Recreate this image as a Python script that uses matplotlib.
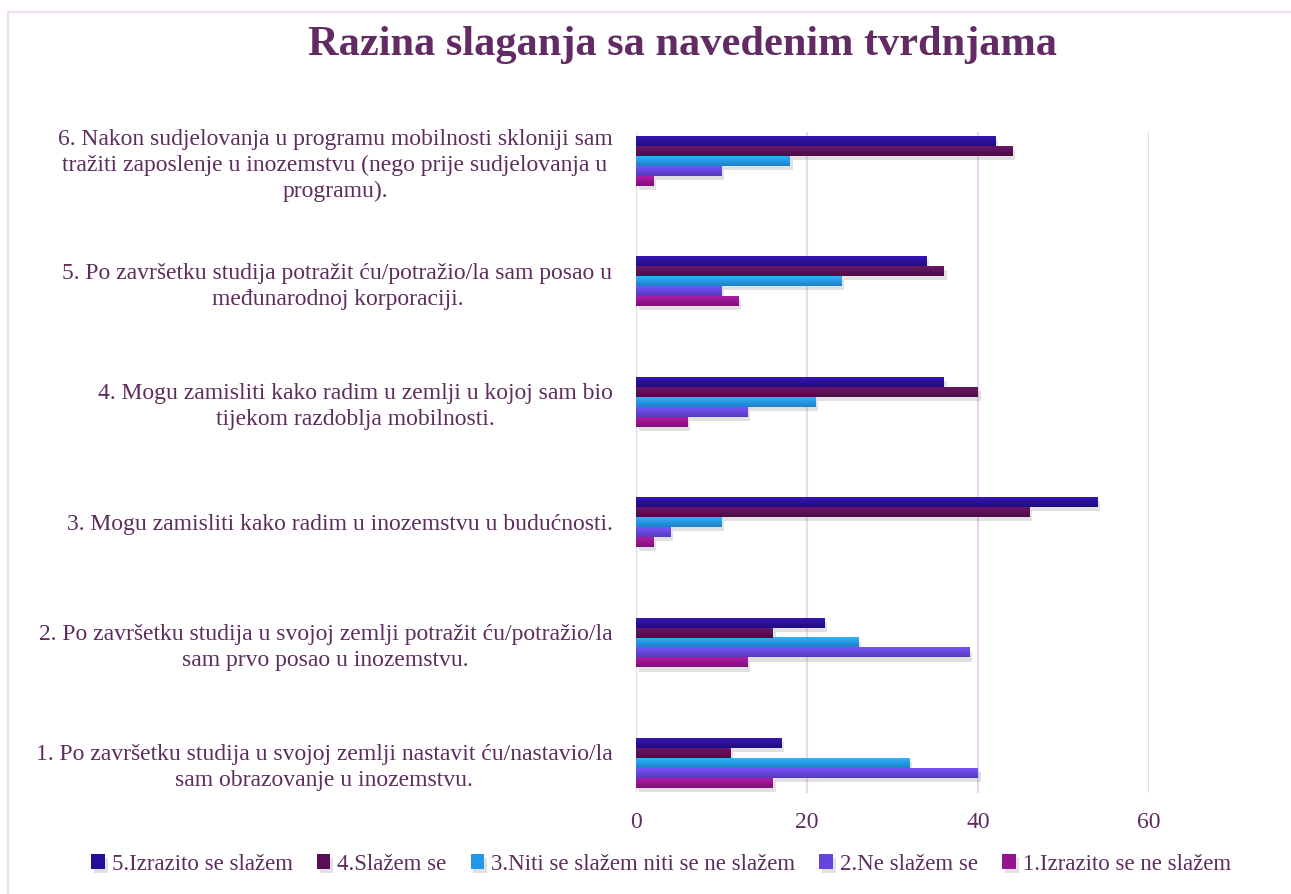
import numpy as np
import matplotlib
matplotlib.use('Agg')
import matplotlib.pyplot as plt
import matplotlib.patheffects as pe
from matplotlib.colors import to_rgb, LinearSegmentedColormap
from matplotlib.patches import Rectangle

plt.rcParams['font.family'] = ['Liberation Serif', 'DejaVu Serif']

# pitanja (odozdo prema gore)
pitanja = [
    '1. Po završetku studija u svojoj zemlji nastavit ću/nastavio/la\nsam obrazovanje u inozemstvu.',
    '2. Po završetku studija u svojoj zemlji potražit ću/potražio/la\nsam prvo posao u inozemstvu.',
    '3. Mogu zamisliti kako radim u inozemstvu u budućnosti.',
    '4. Mogu zamisliti kako radim u zemlji u kojoj sam bio\ntijekom razdoblja mobilnosti.',
    '5. Po završetku studija potražit ću/potražio/la sam posao u\nmeđunarodnoj korporaciji.',
    '6. Nakon sudjelovanja u programu mobilnosti skloniji sam\ntražiti zaposlenje u inozemstvu (nego prije sudjelovanja u\nprogramu).',
]

odgovori = ['1.Izrazito se ne slažem', '2.Ne slažem se', '3.Niti se slažem niti se ne slažem',
            '4.Slažem se', '5.Izrazito se slažem']

izrazito_ne = [16, 13, 2, 6, 12, 2]
ne_slazem = [40, 39, 4, 13, 10, 10]
niti_niti = [32, 26, 10, 21, 24, 18]
slazem = [11, 16, 46, 40, 36, 44]
izrazito_da = [17, 22, 54, 36, 34, 42]

serije = [izrazito_ne, ne_slazem, niti_niti, slazem, izrazito_da]
boje = ['#95138E', '#6444DA', '#2398EA', '#580E54', '#280D98']

tekst = '#5E2D5E'
mreza = '#EBD8EE'

fig = plt.figure(figsize=(12.91, 8.94), dpi=100)
ax = fig.add_axes([636 / 1291, 1 - 793 / 894, (1149 - 636) / 1291, (793 - 132) / 894])

y = np.arange(len(pitanja))
h = 0.083


def gradijent(bar, boja):
    # svjetliji gornji rub, tamniji donji
    r, g, b = to_rgb(boja)
    svijetlo = (min(1, r * 1.12 + 0.03), min(1, g * 1.12 + 0.03), min(1, b * 1.12 + 0.03))
    tamno = (r * 0.85, g * 0.85, b * 0.85)
    cmap = LinearSegmentedColormap.from_list('g', [tamno, svijetlo])
    x0, y0 = bar.get_x(), bar.get_y()
    w, hh = bar.get_width(), bar.get_height()
    ax.imshow(np.linspace(0, 1, 32).reshape(-1, 1), cmap=cmap, aspect='auto',
              origin='lower', extent=(x0, x0 + w, y0, y0 + hh), zorder=3,
              interpolation='bilinear')


ruckice = []
for k, (vals, boja, ime) in enumerate(zip(serije, boje, odgovori)):
    bars = ax.barh(y + (k - 2) * h, vals, height=h, color=boja, label=ime, zorder=2,
                   path_effects=[pe.SimplePatchShadow(offset=(2, -3), shadow_rgbFace='#888888',
                                                      alpha=0.25), pe.Normal()])
    for b in bars:
        gradijent(b, boja)
    ruckice.append(bars)

ax.set_xlim(0, 60)
ax.set_ylim(-0.25, 5.24)
ax.set_xticks([0, 20, 40, 60])
ax.grid(axis='x', color=mreza, linewidth=1.6, zorder=0)
ax.axvline(0, color=mreza, linewidth=1.6, zorder=1)
ax.set_axisbelow(True)
for s in ax.spines.values():
    s.set_visible(False)

ax.set_yticks(y)
ax.set_yticklabels(pitanja)
for lab in ax.get_yticklabels():
    lab.set_multialignment('center')
    lab.set_linespacing(1.3)
ax.tick_params(axis='y', length=0, pad=17, labelsize=17, labelcolor=tekst)
ax.tick_params(axis='x', length=0, pad=14, labelsize=17, labelcolor=tekst)

fig.text(0.529, 1 - 55 / 894, 'Razina slaganja sa navedenim tvrdnjama', ha='center', va='baseline',
         fontsize=30.5, fontweight='bold', color='#632B63')

# legenda: serija 5 prva
h_leg = ruckice[::-1]
l_leg = odgovori[::-1]
fig.legend(h_leg, l_leg, loc='center', bbox_to_anchor=(0.512, 1 - 864 / 894), ncol=5,
           frameon=False, fontsize=16.5, labelcolor=tekst, handlelength=0.6, handleheight=0.6,
           handletextpad=0.3, columnspacing=1.05)

# okvir grafikona
fig.patches.append(Rectangle((8 / 1291, -0.1), 1.2, 1 - 12 / 894 + 0.1, transform=fig.transFigure,
                             fill=False, edgecolor='#F0DCF0', linewidth=1.5))

fig.savefig('out.png', dpi=100)
